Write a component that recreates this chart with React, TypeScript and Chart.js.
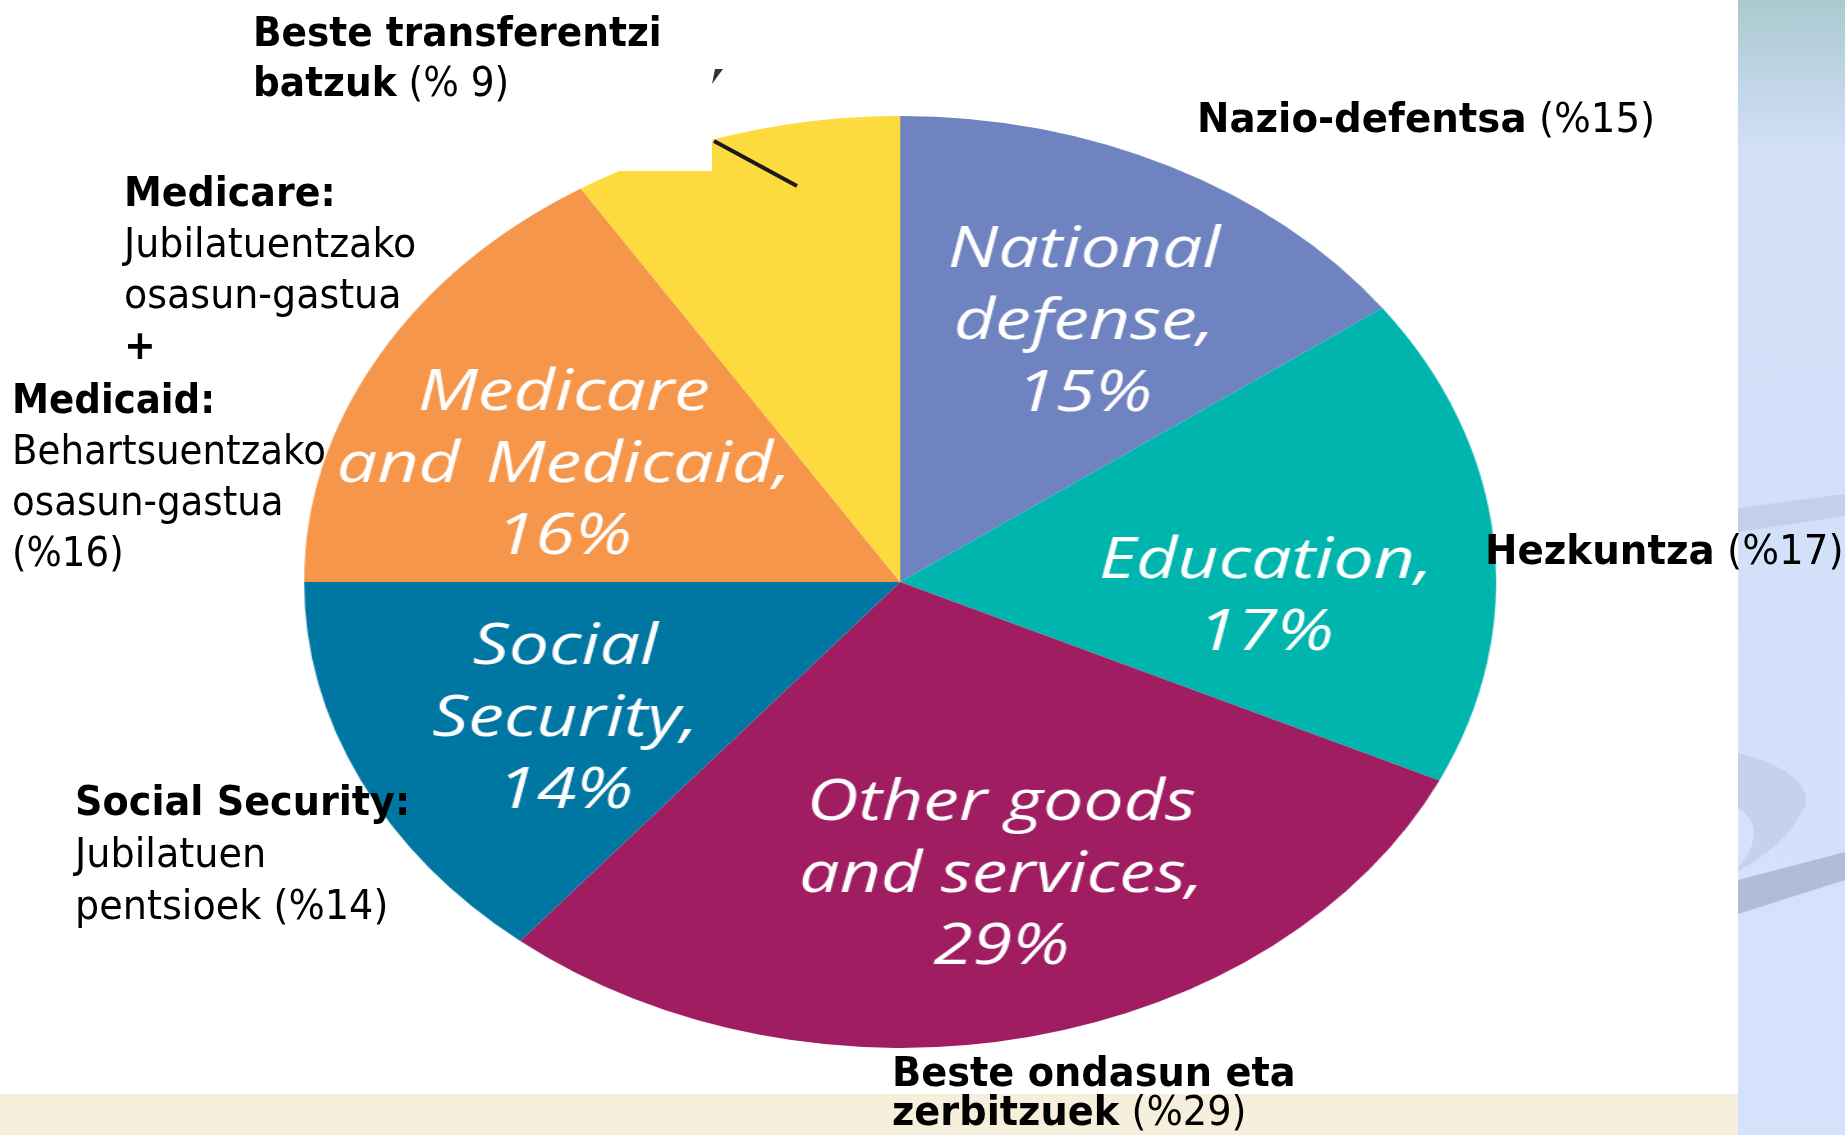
import React, { useEffect, useRef } from "react";
import { Chart, registerables } from "chart.js";

Chart.register(...registerables);

// ---------- data ----------
const categories = [
  "National defense",
  "Education",
  "Other goods and services",
  "Social Security",
  "Medicare and Medicaid",
  "Other transfers",
];
const shares = [15, 17, 29, 14, 16, 9];
const sliceColors = ["#6E83C0", "#00B5AE", "#A01D62", "#0076A3", "#F5964A", "#FDDB3E"];
const sliceLabelLines = [
  ["National", "defense,", "15%"],
  ["Education,", "17%"],
  ["Other goods", "and services,", "29%"],
  ["Social", "Security,", "14%"],
  ["Medicare", "and \u200AMedicaid,", "16%"],
  [],
];

// ---------- layout (not data) ----------
const PIE_CANVAS = 940;
const PIE_PAD = 4;
const STRETCH_X = 1.279;
const PIE_LEFT = 900 - (PIE_CANVAS / 2) * STRETCH_X;
const PIE_TOP = 582 - PIE_CANVAS / 2;
// per-slice label placement: radius fraction, angle shift (deg)
const labelPlacement = [
  { frac: 0.645, shift: 1.6 },
  { frac: 0.614, shift: 7.6 },
  { frac: 0.643, shift: -2.7 },
  { frac: 0.63, shift: -1.7 },
  { frac: 0.621, shift: -4.1 },
  { frac: 0.6, shift: 0 },
];

const sliceLabelPlugin = {
  id: "sliceLabels",
  afterDatasetsDraw(chart: any) {
    const ctx = chart.ctx;
    const meta = chart.getDatasetMeta(0);
    ctx.save();
    ctx.fillStyle = "#ffffff";
    ctx.textAlign = "center";
    ctx.textBaseline = "middle";
    ctx.font = 'italic 56px "Open Sans"';
    const lh = 72;
    meta.data.forEach((arc: any, i: number) => {
      const lines = sliceLabelLines[i] || [];
      if (!lines.length) return;
      const p = arc.getProps(["x", "y", "startAngle", "endAngle", "outerRadius"], true);
      const pl = labelPlacement[i];
      const a = (p.startAngle + p.endAngle) / 2 + (pl.shift * Math.PI) / 180;
      const r = p.outerRadius * pl.frac;
      const cx = p.x + Math.cos(a) * r;
      const cy = p.y + Math.sin(a) * r;
      const y0 = cy - ((lines.length - 1) * lh) / 2;
      lines.forEach((t: string, k: number) => {
        ctx.fillText(t, cx, y0 + k * lh + 5);
      });
    });
    ctx.restore();
  },
};

function PieCanvas() {
  const ref = useRef<HTMLCanvasElement | null>(null);
  useEffect(() => {
    if (!ref.current) return;
    const chart = new Chart(ref.current, {
      type: "pie",
      data: {
        labels: categories,
        datasets: [
          {
            data: shares,
            backgroundColor: sliceColors,
            borderWidth: 0,
          },
        ],
      },
      options: {
        responsive: false,
        animation: false,
        layout: { padding: PIE_PAD },
        plugins: {
          legend: { display: false },
          tooltip: { enabled: false },
        },
      },
      plugins: [sliceLabelPlugin],
    });
    return () => chart.destroy();
  }, []);
  return (
    <div
      style={{
        position: "absolute",
        left: PIE_LEFT,
        top: PIE_TOP,
        width: PIE_CANVAS,
        height: PIE_CANVAS,
        transform: `scaleX(${STRETCH_X})`,
        transformOrigin: "0 0",
      }}
    >
      <canvas
        ref={ref}
        width={PIE_CANVAS}
        height={PIE_CANVAS}
        style={{ width: PIE_CANVAS, height: PIE_CANVAS, display: "block" }}
      />
    </div>
  );
}

const FONT = '"DejaVu Sans", Tahoma, Verdana, sans-serif';

function Label(props: {
  left: number;
  top: number;
  size: number;
  lh: number;
  sx: number;
  children: any;
}) {
  return (
    <div
      style={{
        position: "absolute",
        left: props.left,
        top: props.top,
        fontFamily: FONT,
        fontSize: props.size,
        lineHeight: `${props.lh}px`,
        color: "#000",
        whiteSpace: "nowrap",
        transform: `scaleX(${props.sx})`,
        transformOrigin: "0 0",
        zIndex: 5,
      }}
    >
      {props.children}
    </div>
  );
}

function SidePanel() {
  return (
    <svg
      width={107}
      height={1135}
      style={{ position: "absolute", left: 1738, top: 0 }}
    >
      <defs>
        <linearGradient id="pg" x1="0" y1="0" x2="0" y2="1">
          <stop offset="0" stopColor="#ABC9CF" />
          <stop offset="0.13" stopColor="#D1DFF7" />
          <stop offset="1" stopColor="#D4E2FC" />
        </linearGradient>
      </defs>
      <rect x={0} y={0} width={107} height={1135} fill="url(#pg)" />
      <path d="M0 508 L107 494 L107 516 L0 532 Z" fill="#C4D0EB" />
      <path
        d="M0 753 C 50 765, 82 790, 62 815 C 48 840, 25 858, 0 871 Z"
        fill="#C6D1EC"
      />
      <path d="M0 808 C 18 818, 24 840, 0 868 Z" fill="#D4E2FC" />
      <path d="M0 880 L107 852 L107 880 L0 914 Z" fill="#B1BDD8" />
    </svg>
  );
}

export default function App() {
  return (
    <div
      style={{
        position: "absolute",
        left: 0,
        top: 0,
        width: 1845,
        height: 1135,
        overflow: "hidden",
        background: "#ffffff",
      }}
    >
      <div
        style={{
          position: "absolute",
          left: 0,
          top: 1094,
          width: 1738,
          height: 41,
          background: "#F5EFDB",
        }}
      />
      <SidePanel />
      <PieCanvas />
      {/* white cover box and pointer line over the yellow slice */}
      <div
        style={{
          position: "absolute",
          left: 470,
          top: 60,
          width: 242,
          height: 111,
          background: "#ffffff",
          zIndex: 2,
        }}
      />
      <svg
        width={1845}
        height={300}
        style={{ position: "absolute", left: 0, top: 0, zIndex: 3 }}
      >
        <line x1={714} y1={141} x2={797} y2={186} stroke="#1a1a1a" strokeWidth={4} />
        <path d="M712 84 L715 69 L723 69 Z" fill="#333" />
      </svg>

      <Label left={253} top={7} size={41} lh={50} sx={0.915}>
        <b>Beste transferentzi</b>
        <br />
        <b>batzuk</b> (% 9)
      </Label>
      <Label left={124} top={167} size={40} lh={51} sx={0.95}>
        <b>Medicare:</b>
        <br />
        Jubilatuentzako
        <br />
        osasun-gastua
        <br />
        <b>+</b>
      </Label>
      <Label left={12} top={374} size={40} lh={51} sx={0.93}>
        <b>Medicaid:</b>
        <br />
        Behartsuentzako
        <br />
        osasun-gastua
        <br />
        (%16)
      </Label>
      <Label left={1197} top={93} size={41} lh={50} sx={0.945}>
        <b>Nazio-defentsa</b> (%15)
      </Label>
      <Label left={1485} top={525} size={40} lh={50} sx={0.97}>
        <b>Hezkuntza</b> (%17)
      </Label>
      <Label left={75} top={775} size={40} lh={52} sx={0.955}>
        <b>Social Security:</b>
        <br />
        Jubilatuen
        <br />
        pentsioek (%14)
      </Label>
      <Label left={892} top={1053} size={41} lh={39} sx={0.935}>
        <b>Beste ondasun eta</b>
        <br />
        <b>zerbitzuek</b> (%29)
      </Label>
    </div>
  );
}
